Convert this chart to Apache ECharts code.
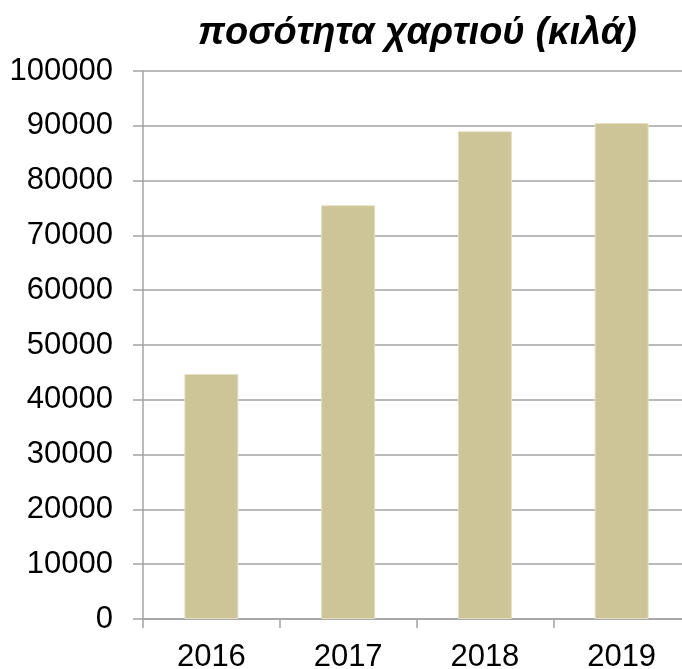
<!DOCTYPE html>
<html>
<head>
<meta charset="utf-8">
<script src="https://cdn.jsdelivr.net/npm/echarts@6/dist/echarts.min.js"></script>
<style>
    html, body { margin: 0; padding: 0; background: #fff; }
    #chart { width: 682px; height: 669px; }
</style>
</head>
<body>
<div id="chart"></div>
<script>
    // data
    var years = ['2016', '2017', '2018', '2019'];
    var paperKg = [44700, 75500, 89000, 90500];
    var yTicks = { min: 0, max: 100000, interval: 10000 };

    var font = '"Liberation Sans", Arial, sans-serif';
    var gridColor = '#a3a3a3';

    var myChart = echarts.init(document.getElementById('chart'));
    myChart.setOption({
        animation: false,
        title: {
            text: 'ποσότητα χαρτιού (κιλά)',
            left: 193,
            top: 10,
            textStyle: {
                fontFamily: font,
                fontSize: 38,
                fontWeight: 'bold',
                fontStyle: 'italic',
                color: '#000'
            }
        },
        grid: {
            left: 143,
            right: -8,
            top: 71,
            bottom: 50,
            containLabel: false,
            outerBoundsMode: 'none'
        },
        xAxis: {
            type: 'category',
            data: years,
            axisLine: { show: true, lineStyle: { color: gridColor, width: 1.5 } },
            axisTick: { show: true, length: 9, lineStyle: { color: gridColor, width: 1.5 } },
            axisLabel: { fontFamily: font, fontSize: 31, color: '#000', margin: 23 }
        },
        yAxis: {
            type: 'value',
            min: yTicks.min,
            max: yTicks.max,
            interval: yTicks.interval,
            axisLine: { show: true, lineStyle: { color: gridColor, width: 1.5 } },
            axisTick: { show: true, length: 10, lineStyle: { color: gridColor, width: 1.5 } },
            axisLabel: {
                fontFamily: font, fontSize: 31, color: '#000', margin: 30,
                formatter: function (v) { return String(v); }
            },
            splitLine: { show: true, lineStyle: { color: gridColor, width: 1.5 } }
        },
        series: [{
            type: 'bar',
            data: paperKg,
            barWidth: 54,
            itemStyle: {
                color: '#cdc597',
                borderColor: '#e4dfc2',
                borderWidth: 1
            }
        }]
    });
</script>
</body>
</html>
